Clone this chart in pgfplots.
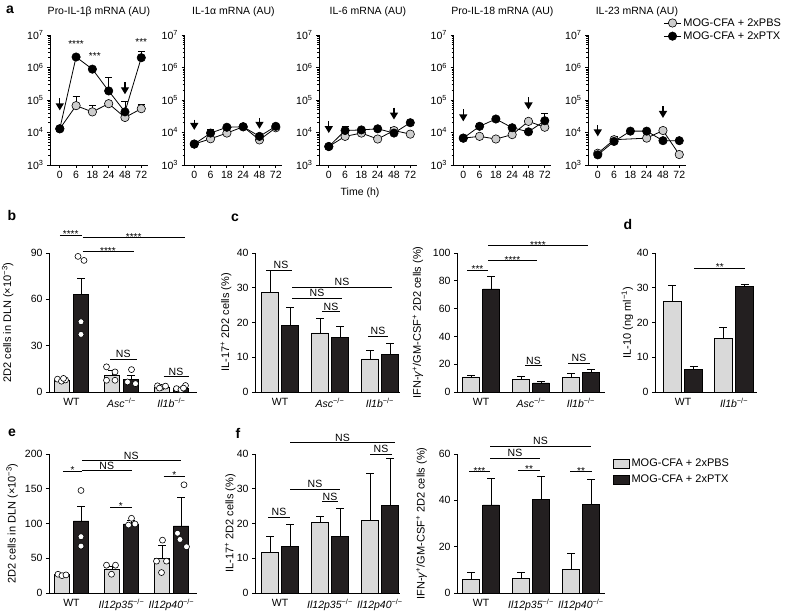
\documentclass[border=0pt]{standalone}
\usepackage{fontspec}
\setmainfont{Liberation Sans}
\setsansfont{Liberation Sans}
\usepackage{pgfplots}
\pgfplotsset{compat=1.18}
\usetikzlibrary{arrows.meta}
\definecolor{lg}{RGB}{217,217,217}
\definecolor{dk}{RGB}{35,31,32}
\definecolor{mg}{RGB}{205,205,205}
\newcommand{\fs}[1]{\fontsize{#1}{#1}\selectfont}
\newcommand{\ko}{\textsuperscript{−/−}}
\pgfplotsset{
 myCommon/.style={scale only axis, axis lines*=left, tick align=outside,
   axis line style={line width=0.8pt, black},
   every tick/.style={line width=0.8pt, black},
   major tick length=3pt, minor tick length=1.8pt,
   tick label style={font=\fs{10.5}, /pgf/number format/assume math mode=true},
   clip=false},
 myLine/.style={myCommon, width=97.8pt, height=130pt, ymin=1e3, ymax=1e7,
   xmin=-0.6, xmax=5.4, xtick={0,...,5}, xticklabels={0,6,18,24,48,72},
   ytick={1e3,1e4,1e5,1e6,1e7},
   yticklabels={10\textsuperscript{3},10\textsuperscript{4},10\textsuperscript{5},10\textsuperscript{6},10\textsuperscript{7}},
   title style={font=\fs{10.5}, at={(0.5,1)}, anchor=base, yshift=14pt}},
 myBar/.style={myCommon, height=139pt, ymin=0,
   xtick={0,1,2}, major x tick style={draw=none},
   ylabel style={font=\fs{11}, anchor=center}},
 eb/.style={error bars/y dir=plus, error bars/y explicit,
   error bars/error bar style={line width=0.8pt, black},
   error bars/error mark options={rotate=90, line width=0.8pt, black, mark size=#1}},
 gser/.style={black, line width=0.8pt, mark=*, mark size=4.2pt, mark options={fill=mg, draw=black, line width=0.6pt}, eb=3.5pt},
 bser/.style={black, line width=0.8pt, mark=*, mark size=4.2pt, mark options={fill=black, draw=black, line width=0.6pt}, eb=3.5pt},
 gbar/.style={ybar, bar shift=0pt, fill=lg, draw=black, line width=0.7pt, eb=4pt},
 dbar/.style={ybar, bar shift=0pt, fill=dk, draw=black, line width=0.7pt, eb=4pt},
 dots/.style={only marks, mark=*, mark size=3pt, mark options={fill=white, draw=black, line width=0.6pt}},
}
\tikzset{arr/.style={line width=1.4pt, -{Triangle[width=8pt,length=7pt]}},
  sig/.style={line width=0.7pt},
  st/.style={midway, above, inner sep=0pt, yshift=-3pt, font=\fs{10}},
  ns/.style={midway, above, inner sep=1pt, font=\fs{10.5}}}
\begin{document}
\begin{tikzpicture}
\useasboundingbox (0pt,0pt) rectangle (788pt,612pt);
% ---------------- a ----------------
\begin{axis}[ymode=log, myLine, anchor=south west, at={(50pt,447pt)}, title={Pro-IL-1β mRNA (AU)}]
\addplot[gser] coordinates {(0,1.3e4) +- (0,0) (1,6.7e4) +- (0,6.3e4) (2,4.3e4) +- (0,2.4e4) (3,7.7e4) +- (0,0) (4,2.9e4) +- (0,0) (5,5.4e4) +- (0,2e4)};
\addplot[bser] coordinates {(0,1.3e4) +- (0,0) (1,2.1e6) +- (0,0) (2,8.9e5) +- (0,0) (3,1.9e5) +- (0,3e5) (4,4.3e4) +- (0,4.6e4) (5,2e6) +- (0,1.2e6)};
\draw[arr] (axis cs:0,1.12e5) -- (axis cs:0,4.8e4);
\draw[arr] (axis cs:4,3.5e5) -- (axis cs:4,1.5e5);
\node[font=\fs{10}] at (axis cs:1,5.4e6) {****};
\node[font=\fs{10}] at (axis cs:2.15,2.2e6) {***};
\node[font=\fs{10}] at (axis cs:5,6e6) {***};
\end{axis}
\begin{axis}[ymode=log, myLine, anchor=south west, at={(184.5pt,447pt)}, title={IL-1α mRNA (AU)}]
\addplot[gser] coordinates {(0,4.4e3) +- (0,0) (1,6.4e3) +- (0,0) (2,9.6e3) +- (0,0) (3,1.5e4) +- (0,0) (4,5.9e3) +- (0,0) (5,1.4e4) +- (0,0)};
\addplot[bser] coordinates {(0,4.4e3) +- (0,0) (1,9.6e3) +- (0,3.1e3) (2,1.45e4) +- (0,0) (3,1.5e4) +- (0,0) (4,7.6e3) +- (0,0) (5,1.55e4) +- (0,0)};
\draw[arr] (axis cs:0,2.5e4) -- (axis cs:0,1.2e4);
\draw[arr] (axis cs:4,2.8e4) -- (axis cs:4,1.3e4);
\end{axis}
\begin{axis}[ymode=log, myLine, anchor=south west, at={(319pt,447pt)}, title={IL-6 mRNA (AU)}]
\addplot[gser] coordinates {(0,3.7e3) +- (0,0) (1,7.6e3) +- (0,0) (2,9.6e3) +- (0,0) (3,6.3e3) +- (0,0) (4,1.15e4) +- (0,3e3) (5,8.9e3) +- (0,0)};
\addplot[bser] coordinates {(0,3.7e3) +- (0,0) (1,1.15e4) +- (0,4e3) (2,1.2e4) +- (0,0) (3,1.3e4) +- (0,0) (4,9.6e3) +- (0,0) (5,2e4) +- (0,0)};
\draw[arr] (axis cs:0,2.2e4) -- (axis cs:0,9.6e3);
\draw[arr] (axis cs:4,5.8e4) -- (axis cs:4,2.5e4);
\end{axis}
\begin{axis}[ymode=log, myLine, anchor=south west, at={(453.5pt,447pt)}, title={Pro-IL-18 mRNA (AU)}]
\addplot[gser] coordinates {(0,6.7e3) +- (0,0) (1,7.6e3) +- (0,0) (2,6.3e3) +- (0,0) (3,8.6e3) +- (0,0) (4,2.2e4) +- (0,0) (5,1.45e4) +- (0,0)};
\addplot[bser] coordinates {(0,6.7e3) +- (0,0) (1,1.55e4) +- (0,3.5e3) (2,2.6e4) +- (0,0) (3,1.4e4) +- (0,0) (4,1.05e4) +- (0,0) (5,2.3e4) +- (0,1.5e4)};
\draw[arr] (axis cs:0,5.1e4) -- (axis cs:0,2.2e4);
\draw[arr] (axis cs:4,1.2e5) -- (axis cs:4,5.1e4);
\end{axis}
\begin{axis}[ymode=log, myLine, anchor=south west, at={(588pt,447pt)}, title={IL-23 mRNA (AU)},
  legend style={at={(axis description cs:0.74,1.16)}, anchor=north west, draw=none, fill=none, font=\fs{11}, row sep=0pt},
  legend cell align=left]
\addplot[gser] coordinates {(0,2.3e3) +- (0,0) (1,6e3) +- (0,0) (3,6.7e3) +- (0,0) (4,1.15e4) +- (0,0) (5,2.1e3) +- (0,0)};
\addplot[bser] coordinates {(0,2.05e3) +- (0,0) (1,5.3e3) +- (0,2.2e3) (2,1.1e4) +- (0,0) (3,1.1e4) +- (0,0) (4,5.6e3) +- (0,0) (5,5.6e3) +- (0,0)};
\draw[arr] (axis cs:0,1.7e4) -- (axis cs:0,7.6e3);
\draw[arr] (axis cs:4,6.5e4) -- (axis cs:4,2.8e4);
\legend{MOG-CFA + 2xPBS, MOG-CFA + 2xPTX}
\end{axis}
\node[font=\fs{10.5}] at (360pt,419pt) {Time (h)};
% ---------------- b ----------------
\begin{axis}[myBar, anchor=south west, at={(49pt,220pt)}, width=147.5pt, xmin=-0.45, xmax=2.5, ymax=90, ytick={0,30,60,90},
  xticklabels={WT, \textit{Asc}\ko, \textit{Il1b}\ko},
  ylabel={2D2 cells in DLN (×10\textsuperscript{−3})}, ylabel style={at={(axis description cs:-0.28,0.5)}}]
\addplot[gbar, bar width=0.31] coordinates {(-0.19,7.6) +- (0,1) (0.81,10.8) +- (0,3.2) (1.81,3.3) +- (0,1)};
\addplot[dbar, bar width=0.31] coordinates {(0.19,63.3) +- (0,10.4) (1.19,8.2) +- (0,2.6) (2.19,2.2) +- (0,0.8)};
\addplot[dots] coordinates {(-0.28,8.3) (-0.2,7.0) (-0.12,7.8) (-0.16,8.8) (0.13,87.8) (0.25,85.2) (0.19,45.5) (0.19,37.3)
 (0.7,16.3) (0.87,13) (0.7,7.6) (0.87,7.6) (1.2,14.5) (1.12,6.5) (1.28,5.4)
 (1.72,4) (1.8,3) (1.88,3.8) (1.76,2.5) (2.1,2.2) (2.19,1.5) (2.28,4.2) (2.24,2.5)};
\draw[sig] (axis cs:-0.23,101.5) -- (axis cs:0.2,101.5) node[st] {****};
\draw[sig] (axis cs:0.22,100) -- (axis cs:2.27,100) node[st] {****};
\draw[sig] (axis cs:0.22,90.9) -- (axis cs:1.24,90.9) node[st] {****};
\draw[sig] (axis cs:0.77,21.2) -- (axis cs:1.3,21.2) node[ns] {NS};
\draw[sig] (axis cs:1.84,9.9) -- (axis cs:2.34,9.9) node[ns] {NS};
\end{axis}
% ---------------- c left ----------------
\begin{axis}[myBar, anchor=south west, at={(255pt,220pt)}, width=145pt, xmin=-0.5, xmax=2.4, ymax=40, ytick={0,10,20,30,40},
  xticklabels={WT, \textit{Asc}\ko, \textit{Il1b}\ko},
  ylabel={IL-17\textsuperscript{+} 2D2 cells (\%)}, ylabel style={at={(axis description cs:-0.2,0.5)}}]
\addplot[gbar, bar width=0.33] coordinates {(-0.2,28.6) +- (0,6.4) (0.8,17) +- (0,4.3) (1.8,9.5) +- (0,2.5)};
\addplot[dbar, bar width=0.33] coordinates {(0.2,19.2) +- (0,5.2) (1.2,15.7) +- (0,3.2) (2.2,10.9) +- (0,3.2)};
\draw[sig] (axis cs:-0.2,35.1) -- (axis cs:0.24,35.1) node[ns] {NS};
\draw[sig] (axis cs:0.24,30.1) -- (axis cs:2.24,30.1) node[ns] {NS};
\draw[sig] (axis cs:0.24,27) -- (axis cs:1.24,27) node[ns] {NS};
\draw[sig] (axis cs:0.84,23.1) -- (axis cs:1.2,23.1) node[ns] {NS};
\draw[sig] (axis cs:1.76,16.1) -- (axis cs:2.16,16.1) node[ns] {NS};
\end{axis}
% ---------------- c right ----------------
\begin{axis}[myBar, anchor=south west, at={(457pt,220pt)}, width=147.5pt, xmin=-0.48, xmax=2.47, ymax=100, ytick={0,20,40,60,80,100},
  xticklabels={WT, \textit{Asc}\ko, \textit{Il1b}\ko},
  ylabel={IFN-\textit{γ}\textsuperscript{+}/GM-CSF\textsuperscript{+} 2D2 cells (\%)}, ylabel style={at={(axis description cs:-0.265,0.5)}}]
\addplot[gbar, bar width=0.33] coordinates {(-0.2,10.8) +- (0,1.2) (0.8,8.9) +- (0,2.4) (1.8,10.6) +- (0,2.6)};
\addplot[dbar, bar width=0.33] coordinates {(0.2,74.1) +- (0,9.1) (1.2,6.5) +- (0,1.2) (2.2,14.1) +- (0,2.4)};
\draw[sig] (axis cs:-0.28,87.8) -- (axis cs:0.14,87.8) node[st] {***};
\draw[sig] (axis cs:0.14,94.5) -- (axis cs:1.12,94.5) node[st] {****};
\draw[sig] (axis cs:0.14,105.3) -- (axis cs:2.14,105.3) node[st] {****};
\draw[sig] (axis cs:0.88,18.9) -- (axis cs:1.22,18.9) node[ns] {NS};
\draw[sig] (axis cs:1.74,20.6) -- (axis cs:2.18,20.6) node[ns] {NS};
\end{axis}
% ---------------- d ----------------
\begin{axis}[myBar, anchor=south west, at={(655pt,220pt)}, width=102pt, xmin=-0.55, xmax=1.45, ymax=40, ytick={0,10,20,30,40},
  xtick={0,1}, xticklabels={WT, \textit{Il1b}\ko},
  ylabel={IL-10 (ng ml\textsuperscript{−1})}, ylabel style={at={(axis description cs:-0.27,0.5)}}]
\addplot[gbar, bar width=0.35] coordinates {(-0.21,26.1) +- (0,4.5) (0.79,15.5) +- (0,3.1)};
\addplot[dbar, bar width=0.35] coordinates {(0.21,6.4) +- (0,1) (1.21,30.4) +- (0,0.5)};
\draw[sig] (axis cs:0.22,35.6) -- (axis cs:1.22,35.6) node[st] {**};
\end{axis}
% ---------------- e ----------------
\begin{axis}[myBar, anchor=south west, at={(49pt,19pt)}, width=147.5pt, xmin=-0.45, xmax=2.5, ymax=200, ytick={0,50,100,150,200},
  xticklabels={WT, \textit{Il12p35}\ko, \textit{Il12p40}\ko},
  ylabel={2D2 cells in DLN (×10\textsuperscript{−3})}, ylabel style={at={(axis description cs:-0.25,0.5)}}]
\addplot[gbar, bar width=0.31] coordinates {(-0.19,27) +- (0,1.5) (0.81,33.7) +- (0,4) (1.81,49.6) +- (0,18.4)};
\addplot[dbar, bar width=0.31] coordinates {(0.19,103.6) +- (0,21.7) (1.19,99.3) +- (0,5) (2.19,96.4) +- (0,40.9)};
\addplot[dots] coordinates {(-0.27,27) (-0.19,25) (-0.11,26) (0.19,147.5) (0.19,81) (0.19,67.5)
 (0.7,40) (0.88,40) (0.8,27) (1.2,107.5) (1.27,99.3) (1.14,97.8)
 (1.82,76) (1.7,45.8) (1.9,45.8) (1.8,29.4) (2.25,155.7) (2.12,86) (2.17,77) (2.3,66.5)};
\draw[sig] (axis cs:-0.17,175.5) -- (axis cs:0.21,175.5) node[st] {*};
\draw[sig] (axis cs:0.21,190.4) -- (axis cs:2.18,190.4) node[ns] {NS};
\draw[sig] (axis cs:0.21,176) -- (axis cs:1.2,176) node[ns] {NS};
\draw[sig] (axis cs:0.77,123.3) -- (axis cs:1.2,123.3) node[st] {*};
\draw[sig] (axis cs:1.84,168.3) -- (axis cs:2.27,168.3) node[st] {*};
\end{axis}
% ---------------- f left ----------------
\begin{axis}[myBar, anchor=south west, at={(255pt,19pt)}, width=145pt, xmin=-0.5, xmax=2.4, ymax=40, ytick={0,10,20,30,40},
  xticklabels={WT, \textit{Il12p35}\ko, \textit{Il12p40}\ko},
  ylabel={IL-17\textsuperscript{+} 2D2 cells (\%)}, ylabel style={at={(axis description cs:-0.17,0.5)}}]
\addplot[gbar, bar width=0.33] coordinates {(-0.2,11.7) +- (0,4.7) (0.8,20.3) +- (0,1.7) (1.8,21) +- (0,13.3)};
\addplot[dbar, bar width=0.33] coordinates {(0.2,13.3) +- (0,6.5) (1.2,16.4) +- (0,8) (2.2,25.1) +- (0,13.5)};
\draw[sig] (axis cs:-0.24,21.8) -- (axis cs:0.2,21.8) node[ns] {NS};
\draw[sig] (axis cs:0.2,29.8) -- (axis cs:1.2,29.8) node[ns] {NS};
\draw[sig] (axis cs:0.84,26.3) -- (axis cs:1.16,26.3) node[ns] {NS};
\draw[sig] (axis cs:0.2,43.3) -- (axis cs:2.3,43.3) node[ns] {NS};
\draw[sig] (axis cs:1.8,39.9) -- (axis cs:2.24,39.9) node[ns] {NS};
\end{axis}
% ---------------- f right ----------------
\begin{axis}[myBar, anchor=south west, at={(457pt,19pt)}, width=147.5pt, xmin=-0.48, xmax=2.47, ymax=60, ytick={0,20,40,60},
  xticklabels={WT, \textit{Il12p35}\ko, \textit{Il12p40}\ko},
  ylabel={IFN-\textit{γ}\textsuperscript{+}/GM-CSF\textsuperscript{+} 2D2 cells (\%)}, ylabel style={at={(axis description cs:-0.24,0.5)}},
  legend style={at={(axis description cs:1.035,0.995)}, anchor=north west, draw=none, fill=none, font=\fs{11}, row sep=3pt},
  legend cell align=left, legend image code/.code={\draw[#1, line width=0.7pt] (0pt,-4.5pt) rectangle (16pt,4.5pt);}]
\addplot[gbar, bar width=0.33] coordinates {(-0.2,5.9) +- (0,3.1) (0.8,6.2) +- (0,2.6) (1.8,10.2) +- (0,7)};
\addplot[dbar, bar width=0.33] coordinates {(0.2,38) +- (0,11.5) (1.2,40.3) +- (0,9.9) (2.2,38.2) +- (0,10.7)};
\legend{MOG-CFA + 2xPBS, MOG-CFA + 2xPTX}
\draw[sig] (axis cs:-0.24,52.4) -- (axis cs:0.18,52.4) node[st] {***};
\draw[sig] (axis cs:0.74,53.1) -- (axis cs:1.18,53.1) node[st] {**};
\draw[sig] (axis cs:1.78,52.4) -- (axis cs:2.22,52.4) node[st] {**};
\draw[sig] (axis cs:0.18,58.2) -- (axis cs:1.18,58.2) node[ns] {NS};
\draw[sig] (axis cs:0.18,63.4) -- (axis cs:2.2,63.4) node[ns] {NS};
\end{axis}
% panel letters
\node[font=\bfseries\fs{14}] at (10pt,602pt) {a};
\node[font=\bfseries\fs{14}] at (12pt,396pt) {b};
\node[font=\bfseries\fs{14}] at (235pt,394pt) {c};
\node[font=\bfseries\fs{14}] at (628pt,387pt) {d};
\node[font=\bfseries\fs{14}] at (12pt,179pt) {e};
\node[font=\bfseries\fs{14}] at (238pt,179pt) {f};
\end{tikzpicture}
\end{document}
